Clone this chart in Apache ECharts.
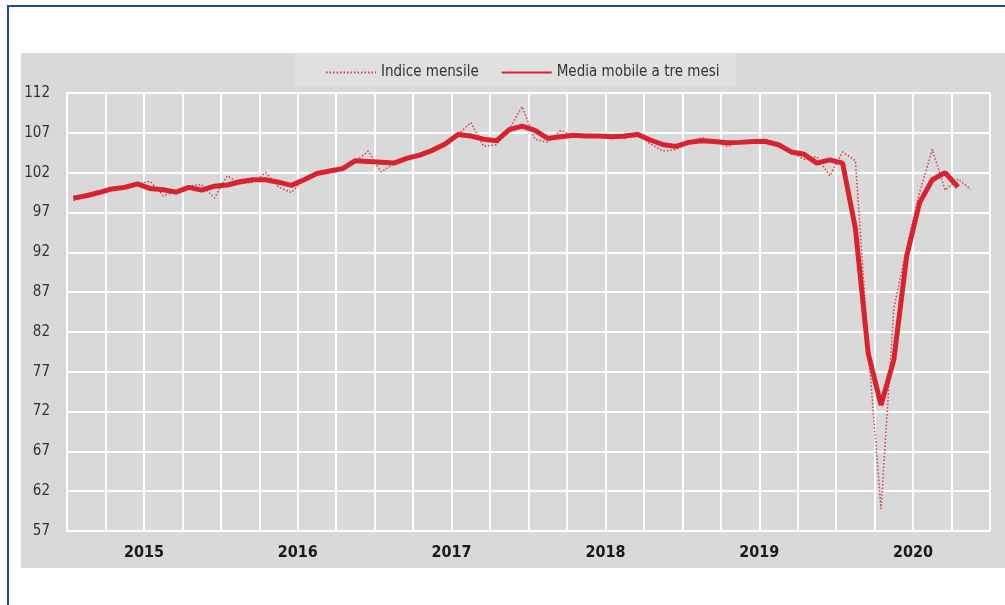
<!DOCTYPE html>
<html>
<head>
<meta charset="utf-8">
<script src="https://cdn.jsdelivr.net/npm/echarts@6/dist/echarts.min.js"></script>
<style>
  html, body { margin: 0; padding: 0; width: 1005px; height: 605px; overflow: hidden; background: #fff; }
  .frame { position: absolute; left: 7px; top: 5px; width: 1100px; height: 700px; border: 2px solid #1f4e8a; }
  #main { position: absolute; left: 21px; top: 53px; width: 984px; height: 515px; background: #d9d9d9; }
</style>
</head>
<body>
<div class="frame"></div>
<div id="main"></div>
<script>
// tick labels
var years = ["2015", "2016", "2017", "2018", "2019", "2020"];
var months = [];
years.forEach(function (y) {
  for (var m = 1; m <= 12; m++) months.push(y + "-" + (m < 10 ? "0" + m : m));
});

// Indice mensile (monthly index), Jan 2015 - Nov 2020
var indiceMensile = [
  98.5, 99.0, 99.6, 100.1, 100.1, 100.6, 100.9, 99.1, 99.6, 100.3, 100.5, 98.8,
  101.6, 100.6, 100.8, 102.0, 100.2, 99.5, 101.2, 102.1, 102.2, 102.6, 103.4, 104.7,
  102.1, 103.1, 103.8, 104.2, 104.7, 105.5, 106.8, 108.3, 105.3, 105.5, 107.5, 110.3,
  106.2, 105.8, 107.3, 106.6, 106.5, 106.5, 106.4, 106.3, 106.9, 105.6, 104.7, 104.9,
  105.8, 106.4, 105.9, 105.3, 105.9, 106.0, 106.2, 105.6, 104.5, 103.7, 104.0, 101.6,
  104.6, 103.5, 80.0, 59.8, 85.0, 92.5, 99.5, 104.9, 99.8, 101.2, 99.9
];

// Media mobile a tre mesi (3-month moving average), Jan 2015 - Oct 2020
var mediaMobile = [
  98.8, 99.1, 99.5, 99.95, 100.15, 100.6, 100.0, 99.85, 99.55, 100.15, 99.8, 100.3,
  100.45, 100.85, 101.1, 101.1, 100.8, 100.4, 101.1, 101.9, 102.2, 102.5, 103.5, 103.4,
  103.3, 103.2, 103.8, 104.2, 104.8, 105.6, 106.8, 106.6, 106.2, 106.0, 107.4, 107.85,
  107.3, 106.3, 106.5, 106.7, 106.6, 106.6, 106.5, 106.6, 106.8, 106.1, 105.5, 105.3,
  105.8, 106.0, 105.9, 105.75, 105.8, 105.9, 105.9, 105.5, 104.6, 104.3, 103.2, 103.6,
  103.2, 95.0, 79.3, 72.8, 78.5, 91.5, 98.2, 101.1, 102.0, 100.2
];

var font = '"DejaVu Sans Condensed", "Liberation Sans", sans-serif';
var red = "#d8232e";

var chart = echarts.init(document.getElementById("main"));
var option = {
  animation: false,
  textStyle: { fontFamily: font },
  graphic: [
    { type: "rect", left: 274, top: 0, shape: { width: 441, height: 34 }, style: { fill: "#e0e0e0" }, z: -1 }
  ],
  legend: {
    left: 304,
    top: 12,
    padding: 0,
    itemWidth: 50,
    itemHeight: 14,
    itemGap: 22,
    itemStyle: { color: "rgba(0,0,0,0)", borderWidth: 0 },
    textStyle: { fontFamily: font, fontSize: 15, color: "#333" },
    data: ["Indice mensile", "Media mobile a tre mesi"]
  },
  grid: {
    left: 46,
    right: 15,
    top: 40,
    bottom: 37,
    show: true,
    borderColor: "#fff",
    borderWidth: 2
  },
  xAxis: [
    {
      type: "category",
      data: months,
      boundaryGap: true,
      axisLine: { show: false },
      axisTick: { show: false },
      axisLabel: { show: false },
      splitLine: { show: true, interval: 2, lineStyle: { color: "#fff", width: 2 } }
    },
    {
      type: "category",
      data: years,
      boundaryGap: true,
      position: "bottom",
      axisLine: { show: false },
      axisTick: { show: false },
      splitLine: { show: false },
      axisLabel: { fontFamily: font, fontSize: 16, fontWeight: "bold", color: "#1a1a1a", margin: 14 }
    }
  ],
  yAxis: {
    type: "value",
    min: 57,
    max: 112,
    interval: 5,
    axisLine: { show: false },
    axisTick: { show: false },
    axisLabel: { fontFamily: font, fontSize: 15, color: "#333", margin: 17 },
    splitLine: { lineStyle: { color: "#fff", width: 2 } }
  },
  series: [
    {
      name: "Indice mensile",
      type: "line",
      xAxisIndex: 0,
      data: indiceMensile,
      symbol: "none",
      lineStyle: { color: "#dc3a44", width: 1.5, type: [1.5, 2] },
      itemStyle: { color: red }
    },
    {
      name: "Media mobile a tre mesi",
      type: "line",
      xAxisIndex: 0,
      data: mediaMobile,
      symbol: "none",
      lineStyle: { color: red, width: 5 },
      itemStyle: { color: red }
    }
  ]
};
chart.setOption(option);
</script>
</body>
</html>
